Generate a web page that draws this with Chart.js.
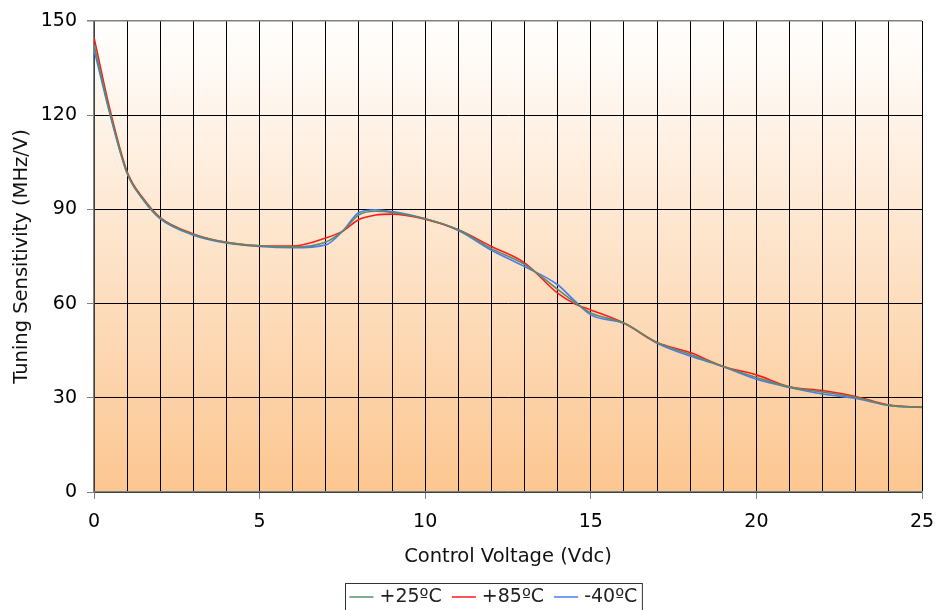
<!DOCTYPE html>
<html>
<head>
<meta charset="utf-8">
<script src="https://cdn.jsdelivr.net/npm/chart.js@4.4.1/dist/chart.umd.min.js"></script>
<style>
    html, body { margin: 0; padding: 0; background: #fff; }
    #wrap { width: 936px; height: 610px; }
</style>
</head>
<body>
<div id="wrap"><canvas id="tuningChart"></canvas></div>
<script>
// --- Data ---
const volts = [0, 0.5, 1, 1.5, 2, 3, 4, 5, 6, 7, 7.5, 8, 8.5, 9, 10, 11, 12, 13, 14, 14.5, 15, 16, 17, 18, 19, 20, 21, 22, 23, 24, 25];
const sens25 = [142.5, 120, 101.5, 93, 87.2, 82, 79.5, 78.4, 78, 79.6, 83, 88.3, 89.4, 89, 87, 83.5, 77.5, 72.5, 64.5, 60.5, 57, 53.8, 47.6, 43.8, 40, 36.5, 33.4, 31.8, 30.1, 27.6, 27];
const sens85 = [144.8, 121, 102, 93.3, 87.4, 82.2, 79.5, 78.4, 78.3, 80.9, 83, 86.8, 88.2, 88.5, 86.9, 83.5, 78.2, 73, 63.3, 60, 58, 53.8, 47.6, 44.4, 40, 37.3, 33.5, 32.3, 30.4, 27.7, 27];
const sensM40 = [141, 119.5, 101.5, 92.8, 87, 81.8, 79.3, 78.2, 77.8, 78.7, 83, 89, 89.9, 89.3, 87, 83.3, 77, 71.8, 66, 61, 56.4, 53.7, 47.4, 43.3, 39.9, 35.9, 33.3, 31.2, 29.8, 27.6, 26.9];

const seriesNames = ['+25ºC', '+85ºC', '-40ºC'];
const seriesColors = ['#5b8c66', '#ff1a1a', '#4a7bf2'];
const xTitle = 'Control Voltage (Vdc)';
const yTitle = 'Tuning Sensitivity (MHz/V)';

const FONT = '"DejaVu Sans", Verdana, sans-serif';

const toPoints = arr => arr.map((v, i) => ({ x: volts[i], y: v }));

// --- Plot area gradient ---
const bgPlugin = {
    id: 'plotBg',
    beforeDraw(chart) {
        const { ctx, chartArea: a } = chart;
        const g = ctx.createLinearGradient(0, a.top, 0, a.bottom);
        g.addColorStop(0, '#ffffff');
        g.addColorStop(1, '#fcc690');
        ctx.save();
        ctx.fillStyle = g;
        ctx.fillRect(a.left, a.top, a.right - a.left, a.bottom - a.top);
        ctx.restore();
    }
};

// --- Boxed legend under the axis title ---
const boxLegend = {
    id: 'boxLegend',
    afterDraw(chart) {
        const { ctx, chartArea: a } = chart;
        ctx.save();
        ctx.font = '19px ' + FONT;
        const sample = 24, gapS = 6, gapItem = 10, padL = 4, padR = 5;
        const widths = seriesNames.map(n => ctx.measureText(n).width);
        let total = padL + padR;
        widths.forEach((w, i) => { total += sample + gapS + w + (i ? gapItem : 0); });
        const cx = (a.left + a.right) / 2 - 15;
        const top = chart.height - 27;
        const x0 = Math.round(cx - total / 2) + 0.5;
        ctx.strokeStyle = '#333';
        ctx.lineWidth = 1;
        ctx.strokeRect(x0, top + 0.5, total, 32);
        let x = x0 + padL;
        const ty = top + 14;
        seriesNames.forEach((n, i) => {
            if (i) x += gapItem;
            ctx.strokeStyle = seriesColors[i];
            ctx.lineWidth = 1.5;
            ctx.beginPath();
            ctx.moveTo(x, ty);
            ctx.lineTo(x + sample, ty);
            ctx.stroke();
            x += sample + gapS;
            ctx.fillStyle = '#222';
            ctx.textBaseline = 'middle';
            ctx.fillText(n, x, ty);
            x += widths[i];
        });
        ctx.restore();
    }
};

function makeDataset(label, data, color) {
    return {
        label,
        data: toPoints(data),
        borderColor: color,
        backgroundColor: color,
        borderWidth: 1.6,
        pointRadius: 0,
        cubicInterpolationMode: 'monotone',
        fill: false
    };
}

const ctx = document.getElementById('tuningChart').getContext('2d');
new Chart(ctx, {
    type: 'line',
    data: {
        datasets: [
            makeDataset(seriesNames[0], sens25, seriesColors[0]),
            makeDataset(seriesNames[1], sens85, seriesColors[1]),
            makeDataset(seriesNames[2], sensM40, seriesColors[2])
        ]
    },
    options: {
        responsive: true,
        maintainAspectRatio: false,
        animation: false,
        layout: { padding: { top: 21, right: 14, left: 0, bottom: 38 } },
        plugins: { legend: { display: false }, tooltip: { enabled: false } },
        scales: {
            x: {
                type: 'linear',
                min: 0,
                max: 25,
                afterFit: s => { s.height = 80; s.paddingLeft = 0; s.paddingRight = 0; },
                ticks: {
                    stepSize: 1,
                    autoSkip: false,
                    maxRotation: 0,
                    padding: 12,
                    color: '#000',
                    font: { family: FONT, size: 19 },
                    callback: v => (v % 5 === 0 ? v : '')
                },
                grid: {
                    color: '#000',
                    lineWidth: 1,
                    tickLength: 7,
                    tickColor: c => (c.tick && c.tick.value % 5 === 0 ? '#808080' : 'rgba(0,0,0,0)')
                },
                border: { color: '#808080', width: 1.5 },
                title: {
                    display: true,
                    text: xTitle,
                    color: '#111',
                    font: { family: FONT, size: 19.5 },
                    padding: { top: 0, bottom: 3 }
                }
            },
            y: {
                min: 0,
                max: 150,
                afterFit: s => { s.width = 94; s.paddingTop = 0; s.paddingBottom = 0; },
                ticks: {
                    stepSize: 30,
                    padding: 10,
                    color: '#000',
                    font: { family: FONT, size: 19 }
                },
                grid: {
                    color: c => (c.tick && c.tick.value === 150 ? '#808080' : '#000'),
                    lineWidth: c => (c.tick && c.tick.value === 150 ? 1.5 : 1),
                    tickLength: 7,
                    tickColor: '#808080'
                },
                border: { color: '#808080', width: 1.5 },
                title: {
                    display: true,
                    text: yTitle,
                    color: '#111',
                    font: { family: FONT, size: 19.5 },
                    padding: { top: 10, bottom: 0 }
                }
            }
        }
    },
    plugins: [bgPlugin, boxLegend]
});
</script>
</body>
</html>
